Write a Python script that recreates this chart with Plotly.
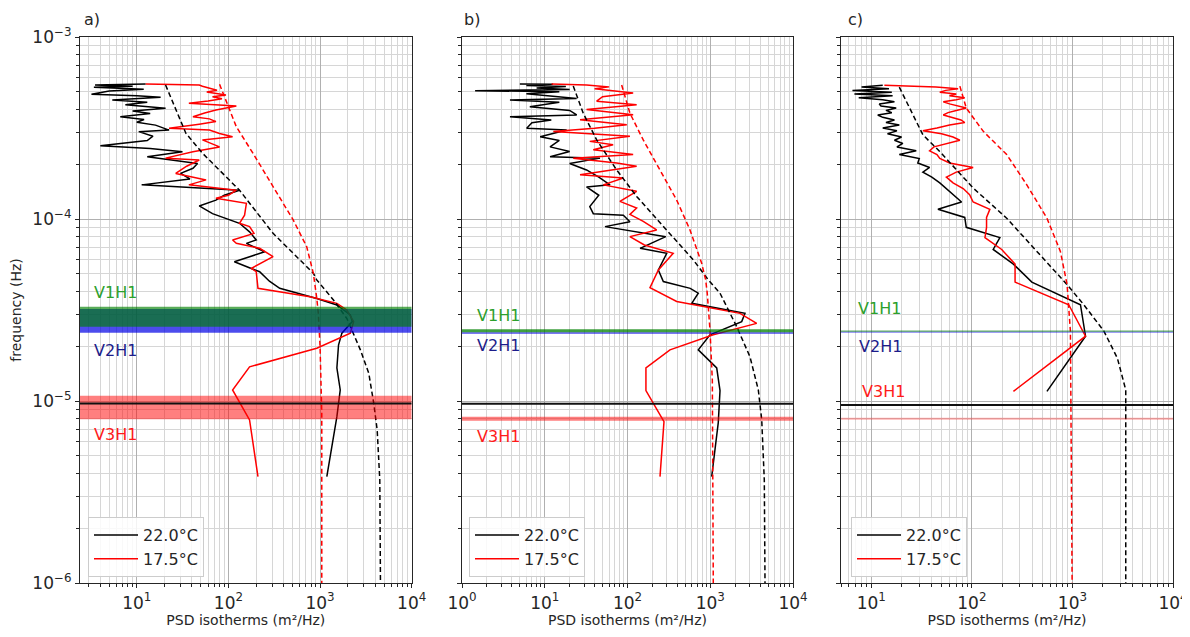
import math
import plotly.graph_objects as go

# ---------------- DATA ----------------
# Panel a)
a_black_psd = [12.5, 3.5, 9.0, 3.4, 11.9, 5.0, 3.2, 10.0, 18.2, 5.4, 13.0, 7.5, 20.6, 9.0, 14.0, 6.6, 12.0, 10.0,
               16.0, 22.5, 10.5, 15.0, 13.0, 4.0, 14.0, 31.5, 13.0, 28.0, 46.0, 41.0, 30.0, 38.0, 11.3, 132.0,
               90.0, 73.0, 48.0, 67.0, 103.0, 132.0, 170.0, 201.0, 157.0, 249.0, 116.0, 157.0, 219.0, 280.0,
               363.0, 920.0, 1526.0, 2138.0, 2248.0, 1730.0, 1590.0, 1526.0, 1660.0, 1526.0, 1185.0]
a_black_freq = [5.52e-4, 5.45e-4, 5.36e-4, 5.30e-4, 5.16e-4, 5.05e-4, 4.85e-4, 4.76e-4, 4.66e-4, 4.51e-4, 4.38e-4,
                4.25e-4, 4.06e-4, 3.92e-4, 3.80e-4, 3.65e-4, 3.52e-4, 3.40e-4, 3.28e-4, 3.08e-4, 3.02e-4, 2.85e-4,
                2.70e-4, 2.53e-4, 2.44e-4, 2.34e-4, 2.20e-4, 2.10e-4, 2.02e-4, 1.90e-4, 1.78e-4, 1.66e-4, 1.54e-4,
                1.44e-4, 1.35e-4, 1.27e-4, 1.18e-4, 1.07e-4, 9.88e-5, 9.47e-5, 8.5e-5, 7.67e-5, 7.35e-5, 6.61e-5,
                5.82e-5, 5.47e-5, 5.13e-5, 4.55e-5, 4.16e-5, 3.66e-5, 3.37e-5, 2.97e-5, 2.73e-5, 2.36e-5, 2.03e-5,
                1.52e-5, 1.15e-5, 8.2e-6, 3.84e-6]
a_red_psd = [12.5, 48, 52, 62, 75, 58, 94, 67, 85, 60, 37, 122, 73, 55, 41, 62, 73, 48, 22.5, 62, 80, 111, 52, 80,
             41, 20.6, 48, 35, 26.6, 57, 37, 122, 100, 73, 157, 150, 132, 170, 190, 111, 122, 219, 307, 178, 201,
             210, 776, 1526, 1963, 2323, 2138, 920, 170, 111, 170, 210]
a_red_freq = [5.52e-4, 5.45e-4, 5.36e-4, 5.25e-4, 5.10e-4, 4.98e-4, 4.80e-4, 4.70e-4, 4.58e-4, 4.45e-4, 4.32e-4,
              4.18e-4, 3.97e-4, 3.82e-4, 3.65e-4, 3.55e-4, 3.43e-4, 3.32e-4, 3.15e-4, 3.08e-4, 2.95e-4, 2.83e-4,
              2.72e-4, 2.49e-4, 2.34e-4, 2.16e-4, 2.11e-4, 1.95e-4, 1.78e-4, 1.64e-4, 1.54e-4, 1.44e-4, 1.35e-4,
              1.30e-4, 1.22e-4, 1.05e-4, 9.47e-5, 9.08e-5, 8.34e-5, 7.67e-5, 7.35e-5, 6.90e-5, 6.21e-5, 5.36e-5,
              5.13e-5, 4.16e-5, 3.74e-5, 3.44e-5, 3.16e-5, 2.73e-5, 2.36e-5, 1.95e-5, 1.54e-5, 1.15e-5, 7.87e-6,
              3.84e-6]
a_black_model_psd = [20.6, 34.3, 52, 132, 307, 844, 920, 1400, 1963, 2754, 3400, 3855, 4200, 4486, 4560]
a_black_model_freq = [5.45e-4, 2.96e-4, 2.30e-4, 1.44e-4, 8.34e-5, 5.04e-5, 4.63e-5, 3.59e-5, 2.84e-5, 1.91e-5,
                      1.42e-5, 9.7e-6, 6.93e-6, 3.68e-6, 1.0e-6]
a_red_model_psd = [80, 94, 122, 185, 307, 509, 714, 844, 920, 957, 1000, 1044, 1044]
a_red_model_freq = [5.50e-4, 4.51e-4, 3.21e-4, 2.30e-4, 1.50e-4, 9.88e-5, 7.05e-5, 5.04e-5, 3.68e-5, 3.03e-5,
                    1.99e-5, 8.55e-6, 1.0e-6]

# Panel b)
b_black_psd = [5.0, 12.6, 6.0, 18.0, 8.0, 20.0, 1.44, 15.0, 6.0, 24.3, 3.8, 15.0, 6.6, 20.0, 24.3, 3.8, 12.0, 7.0,
               6.05, 18.4, 8.8, 15.0, 11.6, 20.0, 11.6, 46.5, 20.0, 32.0, 45.0, 61.5, 32.0, 45.0, 35.0, 38.6, 89.0,
               107.0, 53.5, 290.0, 142.0, 298.0, 236.0, 271.0, 573.0, 717.0, 597.0, 2630.0, 2400.0, 993.0, 717.0,
               1197.0, 1312.0, 1250.0, 1041.0]
b_black_freq = [5.52e-4, 5.50e-4, 5.42e-4, 5.35e-4, 5.25e-4, 5.15e-4, 5.07e-4, 5.00e-4, 4.88e-4, 4.60e-4, 4.51e-4,
                4.38e-4, 4.14e-4, 3.95e-4, 3.73e-4, 3.65e-4, 3.50e-4, 3.38e-4, 3.15e-4, 3.08e-4, 2.83e-4, 2.70e-4,
                2.49e-4, 2.35e-4, 2.20e-4, 2.16e-4, 2.02e-4, 1.86e-4, 1.70e-4, 1.54e-4, 1.50e-4, 1.35e-4, 1.17e-4,
                1.07e-4, 1.05e-4, 9.66e-5, 9.08e-5, 8.0e-5, 6.90e-5, 6.48e-5, 5.25e-5, 4.53e-5, 4.16e-5, 3.91e-5,
                3.44e-5, 3.03e-5, 2.73e-5, 2.31e-5, 1.91e-5, 1.52e-5, 1.14e-5, 7.6e-6, 3.84e-6]
b_red_psd = [12.1, 32, 60, 40, 117, 50, 42.4, 129, 32, 117, 26.7, 98, 40, 12.7, 107, 35, 67, 38.6, 117, 22.1, 74,
             129, 26.7, 89, 51, 129, 81, 129, 107, 155, 225, 107, 160, 357, 236, 187, 393, 2290, 3640, 1088, 326,
             167, 167, 276, 247]
b_red_freq = [5.52e-4, 5.45e-4, 5.32e-4, 5.20e-4, 4.92e-4, 4.70e-4, 4.44e-4, 4.25e-4, 3.99e-4, 3.74e-4, 3.51e-4,
              3.30e-4, 3.15e-4, 3.03e-4, 2.85e-4, 2.67e-4, 2.56e-4, 2.40e-4, 2.26e-4, 2.16e-4, 2.03e-4, 1.95e-4,
              1.75e-4, 1.68e-4, 1.54e-4, 1.42e-4, 1.25e-4, 1.15e-4, 1.06e-4, 9.71e-5, 8.71e-5, 8.0e-5, 7.2e-5,
              6.48e-5, 5.25e-5, 4.20e-5, 3.52e-5, 3.03e-5, 2.67e-5, 2.31e-5, 1.91e-5, 1.52e-5, 1.14e-5, 7.7e-6,
              3.84e-6]
b_black_model_psd = [22.1, 29.2, 42.4, 74, 129, 298, 624, 947, 1312, 2090, 3020, 3810, 4190, 4500, 4590]
b_black_model_freq = [5.38e-4, 3.81e-4, 2.72e-4, 1.86e-4, 1.33e-4, 8.71e-5, 5.96e-5, 4.63e-5, 3.91e-5, 2.56e-5,
                      1.75e-5, 1.15e-5, 7.87e-6, 3.68e-6, 1.0e-6]
b_red_model_psd = [85, 107, 155, 247, 393, 569, 788, 880, 920, 993, 1060, 1088]
b_red_model_freq = [5.45e-4, 3.81e-4, 2.72e-4, 1.86e-4, 1.27e-4, 8.71e-5, 5.71e-5, 4.63e-5, 3.91e-5, 2.45e-5,
                    1.30e-5, 1.0e-6]

# Panel c)
c_black_psd = [13, 8, 15, 6.5, 16, 6.8, 16.3, 7.5, 13, 17, 12, 12.5, 17.7, 14, 16, 11.6, 13, 17, 14, 19, 13, 18,
               14.5, 20, 17, 20.6, 18, 28, 19, 30, 29, 38, 32.6, 40, 48, 56, 65, 79, 46, 85, 88, 190, 163, 259,
               395, 1202, 1350, 558]
c_black_freq = [5.43e-4, 5.31e-4, 5.20e-4, 5.09e-4, 4.97e-4, 4.86e-4, 4.75e-4, 4.63e-4, 4.52e-4, 4.41e-4, 4.29e-4,
                4.18e-4, 4.07e-4, 3.95e-4, 3.84e-4, 3.73e-4, 3.62e-4, 3.50e-4, 3.39e-4, 3.28e-4, 3.16e-4, 3.05e-4,
                2.94e-4, 2.82e-4, 2.71e-4, 2.60e-4, 2.49e-4, 2.37e-4, 2.26e-4, 2.15e-4, 2.03e-4, 1.92e-4, 1.81e-4,
                1.70e-4, 1.58e-4, 1.47e-4, 1.36e-4, 1.24e-4, 1.13e-4, 1.02e-4, 9.0e-5, 7.9e-5, 6.8e-5, 5.65e-5,
                4.5e-5, 3.38e-5, 2.27e-5, 1.13e-5]
c_red_psd = [13.5, 44, 73, 55, 48, 70, 60, 85, 70, 52, 60, 75, 88, 70, 58, 52, 65, 78, 85, 60, 45, 32.6, 50, 65,
             76, 55, 42, 38, 45, 48, 60, 103, 70, 55.8, 65, 82, 95, 103, 151, 140, 140, 135, 198, 269, 269, 919,
             1350, 259]
c_red_freq = c_black_freq
c_black_model_psd = [19, 32.6, 47.9, 103, 222, 479, 885, 1298, 2056, 2799, 3390, 3390]
c_black_model_freq = [5.30e-4, 2.90e-4, 2.35e-4, 1.48e-4, 1.01e-4, 6.37e-5, 4.36e-5, 3.38e-5, 2.42e-5, 1.72e-5,
                      1.15e-5, 1.0e-6]
c_red_model_psd = [76, 88, 130, 222, 352, 558, 759, 885, 955, 993]
c_red_model_freq = [5.37e-4, 4.07e-4, 3.03e-4, 2.26e-4, 1.54e-4, 1.01e-4, 6.64e-5, 4.36e-5, 2.42e-5, 1.0e-6]

# Frequency bands (lower, upper) for V1H1 / V2H1 / V3H1 and the black reference line
a_bands = {"V1H1": (2.56e-5, 3.30e-5), "V2H1": (2.37e-5, 3.20e-5), "V3H1": (7.94e-6, 1.07e-5)}
b_bands = {"V1H1": (2.39e-5, 2.48e-5), "V2H1": (2.34e-5, 2.39e-5), "V3H1": (7.8e-6, 8.2e-6)}
c_bands = {"V1H1": (2.40e-5, 2.44e-5), "V2H1": (2.37e-5, 2.41e-5), "V3H1": (7.9e-6, 8.1e-6)}
ref_line_freq = [9.7e-6, 9.65e-6, 9.5e-6]

legend_labels = ["22.0°C", "17.5°C"]
x_tick_vals = [1, 10, 100, 1000, 10000]
x_tick_text = ["10<sup>0</sup>", "10<sup>1</sup>", "10<sup>2</sup>", "10<sup>3</sup>", "10<sup>4</sup>"]
y_tick_vals = [1e-6, 1e-5, 1e-4, 1e-3]
y_tick_text = ["10<sup>\u22126</sup>", "10<sup>\u22125</sup>", "10<sup>\u22124</sup>", "10<sup>\u22123</sup>"]
panel_letters = ["a)", "b)", "c)"]

# ---------------- FIGURE ----------------
# The page body has an 8px margin; the figure is sized so that it fills the rest of the window.
OFF = 8
W, H = 1190 - OFF, 637 - OFF
FONT = "DejaVu Sans"
TXT = "#262626"


def fx(p):
    return (p - OFF) / W


def fy(p):
    return 1 - (p - OFF) / H


x_doms = [(80, 411.7), (462, 793), (841, 1173)]
x_ranges = [[0.38, 4], [0, 4], [0.699, 4]]
legend_pos = [(88, 517), (469, 517), (851, 517)]
letter_x = [82, 462, 846]

panels = [
    (a_black_psd, a_black_freq, a_red_psd, a_red_freq, a_black_model_psd, a_black_model_freq,
     a_red_model_psd, a_red_model_freq, a_bands),
    (b_black_psd, b_black_freq, b_red_psd, b_red_freq, b_black_model_psd, b_black_model_freq,
     b_red_model_psd, b_red_model_freq, b_bands),
    (c_black_psd, c_black_freq, c_red_psd, c_red_freq, c_black_model_psd, c_black_model_freq,
     c_red_model_psd, c_red_model_freq, c_bands),
]

band_styles = [
    {"V1H1": "rgba(0,128,0,0.65)", "V2H1": "rgba(0,0,230,0.7)", "V3H1": "rgba(255,0,0,0.5)"},
    {"V1H1": "rgba(0,128,0,0.75)", "V2H1": "rgba(0,0,230,0.7)", "V3H1": "rgba(255,0,0,0.5)"},
    {"V1H1": "rgba(0,128,0,0.6)", "V2H1": "rgba(0,0,230,0.5)", "V3H1": "rgba(255,0,0,0.3)"},
]

fig = go.Figure()
annotations = []
legend_names = ["legend", "legend2", "legend3"]

for i, (bk_p, bk_f, rd_p, rd_f, bkm_p, bkm_f, rdm_p, rdm_f, bands) in enumerate(panels):
    sfx = "" if i == 0 else str(i + 1)
    xa, ya = "x" + sfx, "y" + sfx
    lg = legend_names[i]
    fig.add_trace(go.Scatter(x=bk_p, y=bk_f, mode="lines", line=dict(color="black", width=1.5),
                             name=legend_labels[0], xaxis=xa, yaxis=ya, legend=lg))
    fig.add_trace(go.Scatter(x=rd_p, y=rd_f, mode="lines", line=dict(color="red", width=1.5),
                             name=legend_labels[1], xaxis=xa, yaxis=ya, legend=lg))
    fig.add_trace(go.Scatter(x=bkm_p, y=bkm_f, mode="lines", line=dict(color="black", width=1.5, dash="5px,3px"),
                             showlegend=False, xaxis=xa, yaxis=ya))
    fig.add_trace(go.Scatter(x=rdm_p, y=rdm_f, mode="lines", line=dict(color="red", width=1.5, dash="5px,3px"),
                             showlegend=False, xaxis=xa, yaxis=ya))

    # horizontal bands spanning the full axis width (drawn on top, semi-transparent)
    x_lo, x_hi = 10 ** x_ranges[i][0], 10 ** x_ranges[i][1]
    for key in ["V2H1", "V1H1", "V3H1"]:
        lo, hi = bands[key]
        fig.add_trace(go.Scatter(x=[x_lo, x_hi, x_hi, x_lo, x_lo], y=[lo, lo, hi, hi, lo], mode="lines",
                                 fill="toself", fillcolor=band_styles[i][key], line=dict(width=0),
                                 showlegend=False, hoverinfo="skip", xaxis=xa, yaxis=ya))
    fig.add_trace(go.Scatter(x=[x_lo, x_hi], y=[ref_line_freq[i], ref_line_freq[i]], mode="lines",
                             line=dict(color="#111111", width=2), showlegend=False, hoverinfo="skip",
                             xaxis=xa, yaxis=ya))

    xd = x_doms[i]
    common = dict(
        type="log", showline=True, linecolor=TXT, linewidth=1.2, mirror=True, automargin=False,
        ticks="outside", ticklen=4, tickwidth=1, tickcolor=TXT,
        showgrid=True, gridcolor="#b0b0b0", gridwidth=0.8, zeroline=False,
        tickfont=dict(family=FONT, size=17, color=TXT),
        minor=dict(ticks="outside", ticklen=2.5, tickwidth=0.8, tickcolor=TXT,
                   showgrid=True, gridcolor="#d6d6d6", gridwidth=0.6, dtick="D1"),
    )
    fig.update_layout(**{
        "xaxis" + sfx: dict(common, domain=[fx(xd[0]), fx(xd[1])], range=x_ranges[i], anchor=ya,
                            tickmode="array", tickvals=x_tick_vals, ticktext=x_tick_text,
                            title=dict(text="PSD isotherms (m²/Hz)", font=dict(family=FONT, size=14, color=TXT),
                                       standoff=3)),
        "yaxis" + sfx: dict(common, domain=[fy(583), fy(37)], range=[-6, -3], anchor=xa,
                            tickmode="array", tickvals=y_tick_vals, ticktext=y_tick_text,
                            showticklabels=(i == 0),
                            title=dict(text="frequency (Hz)" if i == 0 else "",
                                       font=dict(family=FONT, size=14, color=TXT), standoff=8)),
    })

    annotations.append(dict(text=panel_letters[i], xref="paper", yref="paper", x=fx(letter_x[i]), y=fy(19),
                            xanchor="left", yanchor="middle", showarrow=False,
                            font=dict(family=FONT, size=16, color=TXT)))

    lp = legend_pos[i]
    fig.update_layout(**{lg: dict(x=fx(lp[0]), y=fy(lp[1]), xanchor="left", yanchor="top",
                                  bgcolor="rgba(255,255,255,0.85)", bordercolor="#cccccc", borderwidth=1,
                                  font=dict(family=FONT, size=16, color=TXT), tracegroupgap=0,
                                  itemwidth=44)})

label_pos = [
    {"V1H1": (92, 292.7), "V2H1": (92, 350.7), "V3H1": (92, 434)},
    {"V1H1": (475, 315), "V2H1": (475, 345.7), "V3H1": (475, 436)},
    {"V1H1": (856, 308.3), "V2H1": (856.7, 346.7), "V3H1": (860, 391.7)},
]
label_cols = {"V1H1": "#2ca02c", "V2H1": "#1c1c8a", "V3H1": "#ff1a1a"}
for i in range(3):
    for key, (px, py) in label_pos[i].items():
        annotations.append(dict(text=key, xref="paper", yref="paper", x=fx(px), y=fy(py),
                                xanchor="left", yanchor="middle", showarrow=False,
                                font=dict(family=FONT, size=16, color=label_cols[key])))

fig.update_layout(width=W, height=H, margin=dict(l=0, r=0, t=0, b=0, autoexpand=False),
                  paper_bgcolor="white", plot_bgcolor="white",
                  annotations=annotations, hovermode=False,
                  font=dict(family=FONT, color=TXT))

fig.write_html("out.html")
